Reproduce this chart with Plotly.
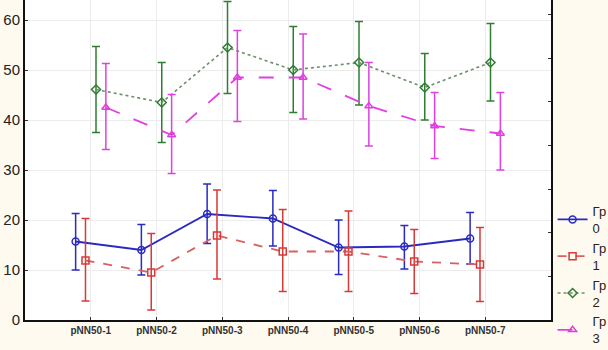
import plotly.graph_objects as go

categories = ["pNN50-1", "pNN50-2", "pNN50-3", "pNN50-4", "pNN50-5", "pNN50-6", "pNN50-7"]

gr0_mean = [15.7, 14.0, 21.2, 20.3, 14.5, 14.7, 16.3]
gr0_hi = [21.3, 19.1, 27.2, 25.9, 20.0, 18.9, 21.5]
gr0_lo = [10.0, 9.0, 15.3, 14.8, 9.1, 10.2, 11.2]

gr1_mean = [11.9, 9.5, 16.9, 13.7, 13.7, 11.7, 11.1]
gr1_hi = [20.3, 17.3, 26.0, 22.1, 21.8, 18.1, 18.5]
gr1_lo = [3.8, 2.0, 8.2, 5.7, 5.7, 5.3, 3.7]

gr2_mean = [46.1, 43.5, 54.5, 50.0, 51.5, 46.5, 51.5]
gr2_hi = [54.7, 51.5, 63.7, 58.7, 59.7, 53.3, 59.3]
gr2_lo = [37.5, 35.5, 45.3, 41.5, 43.0, 40.0, 43.8]

gr3_mean = [42.5, 37.0, 48.5, 48.5, 42.8, 38.8, 37.3]
gr3_hi = [51.3, 45.1, 57.9, 57.2, 51.5, 45.5, 45.5]
gr3_lo = [34.1, 29.3, 39.7, 40.2, 34.8, 32.3, 30.0]

group_names = ["Гр<br>0", "Гр<br>1", "Гр<br>2", "Гр<br>3"]
y_ticks = [0, 10, 20, 30, 40, 50, 60]

series = [
    (gr0_mean, gr0_hi, gr0_lo, "#2a2ac0", "#2a2ac0", "circle-open", "solid", -0.23),
    (gr1_mean, gr1_hi, gr1_lo, "#d83838", "#d86060", "square-open", "dash", -0.08),
    (gr2_mean, gr2_hi, gr2_lo, "#2e7d32", "#6a8f6a", "diamond-open", "dot", 0.08),
    (gr3_mean, gr3_hi, gr3_lo, "#e040e0", "#e040e0", "triangle-up-open", "longdash", 0.23),
]

fig = go.Figure()
for (mean, hi, lo, color, lcolor, sym, dash, off), name in zip(series, group_names):
    xs = [i + off for i in range(len(categories))]
    fig.add_trace(go.Scatter(
        x=xs, y=mean, name=name, mode="lines+markers",
        line=dict(color=lcolor, width=1.8 if dash != "dot" else 1.6, dash=dash),
        marker=dict(symbol=sym, size=7, color=color, line=dict(width=1.5, color=color)),
        error_y=dict(type="data", symmetric=False,
                     array=[h - m for h, m in zip(hi, mean)],
                     arrayminus=[m - l for m, l in zip(mean, lo)],
                     color=color, thickness=1.5, width=4),
    ))

fig.add_trace(go.Scatter(x=[None], y=[None], yaxis="y2", showlegend=False, hoverinfo="skip"))

fig.update_layout(
    width=608, height=350,
    margin=dict(l=25, r=57, t=0, b=30, autoexpand=False),
    paper_bgcolor="#fffaf0",
    plot_bgcolor="#ffffff",
    font=dict(family="Liberation Sans, Arial, sans-serif", color="#222222"),
    xaxis=dict(
        range=[-1, 7], tickvals=list(range(len(categories))),
        ticktext=["<b>" + c + "</b>" for c in categories],
        tickfont=dict(size=10, family="Liberation Sans, Arial", color="#333333"),
        showgrid=True, gridcolor="#ececec", gridwidth=1,
        showline=True, linecolor="#111111", linewidth=2,
        ticks="inside", ticklen=3, tickcolor="#333333",
        zeroline=False, automargin=False,
    ),
    yaxis=dict(
        range=[0, 64], tickvals=y_ticks,
        tickfont=dict(size=15, color="#222222"),
        showgrid=True, gridcolor="#ececec", gridwidth=1,
        showline=True, linecolor="#111111", linewidth=2,
        ticks="inside", ticklen=3, tickcolor="#333333",
        zeroline=False, automargin=False,
    ),
    yaxis2=dict(
        overlaying="y", side="right", range=[0, 7.33], dtick=1,
        showticklabels=False, showgrid=False, zeroline=False,
        showline=True, linecolor="#111111", linewidth=2,
        ticks="inside", ticklen=3, tickcolor="#333333", automargin=False,
    ),
    legend=dict(
        x=1.003, xanchor="left", y=0.44, yanchor="top", yref="container",
        font=dict(size=13, color="#222222"),
        bgcolor="rgba(0,0,0,0)", itemwidth=30, tracegroupgap=0,
    ),
    showlegend=True,
)

fig.write_html(
    "out.html",
    config={"displayModeBar": False},
    post_script="document.body.style.margin='0';document.body.style.padding='0';",
)
